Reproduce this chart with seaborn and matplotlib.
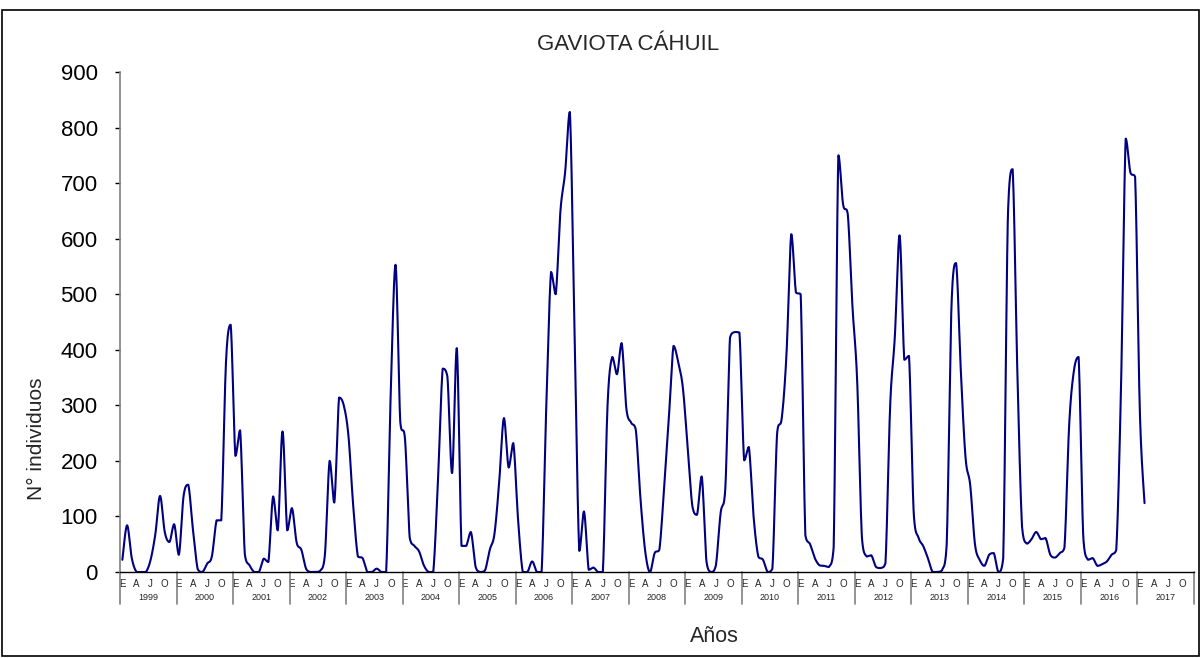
import numpy as np
import pandas as pd
import matplotlib
matplotlib.use("Agg")
import matplotlib.pyplot as plt
import matplotlib.transforms as mtransforms
from matplotlib.patches import Rectangle
import seaborn as sns

# ---------------- data (monthly counts) ----------------
years = [str(y) for y in range(1999, 2018)]
month_labels = ["E", "A", "J", "O"]
month_label_pos = [0, 3, 6, 9]

c1999 = [22, 84, 25, 0, 0, 0, 22, 68, 137, 72, 54, 86]
c2000 = [31, 137, 157, 75, 5, 0, 15, 28, 93, 93, 378, 445]
c2001 = [209, 255, 32, 12, 0, 0, 24, 18, 136, 75, 253, 75]
c2002 = [115, 53, 40, 6, 0, 0, 2, 31, 200, 125, 314, 300]
c2003 = [245, 120, 28, 25, 0, 0, 6, 0, 0, 330, 553, 270]
c2004 = [240, 62, 47, 37, 12, 0, 0, 165, 366, 352, 178, 403]
c2005 = [47, 47, 72, 9, 0, 3, 40, 69, 162, 277, 188, 232]
c2006 = [95, 0, 0, 19, 0, 0, 300, 540, 500, 650, 720, 828]
c2007 = [430, 38, 109, 4, 8, 0, 0, 300, 387, 356, 412, 294]
c2008 = [269, 256, 131, 37, 0, 34, 40, 150, 275, 407, 378, 331]
c2009 = [225, 119, 103, 172, 19, 0, 12, 106, 150, 422, 432, 431]
c2010 = [201, 225, 100, 28, 22, 0, 6, 250, 278, 394, 608, 503]
c2011 = [500, 66, 50, 25, 12, 11, 9, 44, 750, 662, 644, 477]
c2012 = [343, 62, 28, 30, 9, 7, 16, 300, 425, 606, 382, 389]
c2013 = [106, 62, 47, 25, 0, 0, 3, 50, 475, 556, 362, 206]
c2014 = [156, 50, 22, 11, 31, 34, 0, 25, 644, 725, 360, 81]
c2015 = [51, 59, 72, 59, 61, 31, 26, 34, 44, 265, 362, 387]
c2016 = [62, 22, 25, 11, 14, 19, 31, 40, 330, 780, 719, 711]
c2017 = [290, 124]

counts = (c1999 + c2000 + c2001 + c2002 + c2003 + c2004 + c2005 + c2006 +
          c2007 + c2008 + c2009 + c2010 + c2011 + c2012 + c2013 + c2014 +
          c2015 + c2016 + c2017)

df = pd.DataFrame({"idx": np.arange(len(counts)) + 0.5, "n": counts})


# Excel-like smoothed line: cubic Bezier through every point, with the
# control points kept inside each segment's range (no overshoot)
def smooth_line(x, y, steps=24):
    x = np.asarray(x, float)
    y = np.asarray(y, float)
    px = np.concatenate([[x[0]], x, [x[-1]]])
    py = np.concatenate([[y[0]], y, [y[-1]]])
    xs, ys = [], []
    t = np.linspace(0, 1, steps, endpoint=False)
    b0 = (1 - t) ** 3
    b1 = 3 * (1 - t) ** 2 * t
    b2 = 3 * (1 - t) * t ** 2
    b3 = t ** 3
    for k in range(1, len(px) - 2):
        p0, p1, p2, p3 = k - 1, k, k + 1, k + 2
        lo, hi = min(py[p1], py[p2]), max(py[p1], py[p2])
        c1x = px[p1] + (px[p2] - px[p0]) / 6
        c1y = np.clip(py[p1] + (py[p2] - py[p0]) / 6, lo, hi)
        c2x = px[p2] - (px[p3] - px[p1]) / 6
        c2y = np.clip(py[p2] - (py[p3] - py[p1]) / 6, lo, hi)
        xs.append(b0 * px[p1] + b1 * c1x + b2 * c2x + b3 * px[p2])
        ys.append(b0 * py[p1] + b1 * c1y + b2 * c2y + b3 * py[p2])
    xs.append([x[-1]])
    ys.append([y[-1]])
    return np.concatenate(xs), np.concatenate(ys)


sx, sy = smooth_line(df["idx"], df["n"])
smooth_df = pd.DataFrame({"x": sx, "y": sy})

# ---------------- figure ----------------
sns.set_style("white")
plt.rcParams["font.family"] = ["Liberation Sans", "DejaVu Sans"]

W, H = 1203, 658
fig = plt.figure(figsize=(W / 100, H / 100), dpi=100)
ax = fig.add_axes([120 / W, 1 - 572 / H, (1194 - 120) / W, 500 / H])

sns.lineplot(data=smooth_df, x="x", y="y", sort=False, estimator=None,
             color="#000080", linewidth=1.5, ax=ax)

n_cat = 12 * len(years)
ax.set_xlim(0, n_cat)
ax.set_ylim(0, 900)
ax.set_yticks(np.arange(0, 901, 100))
ax.set_yticklabels([str(v) for v in range(0, 901, 100)], fontsize=16)
ax.tick_params(axis="y", direction="out", length=3.6, width=1, pad=12.5,
               colors="black", left=True)

# month ticks
xt, xl = [], []
for yi in range(len(years)):
    for p, lab in zip(month_label_pos, month_labels):
        xt.append(yi * 12 + p + 0.5)
        xl.append(lab)
ax.set_xticks(xt)
ax.set_xticklabels(xl, fontsize=7)
ax.tick_params(axis="x", length=0, pad=5)

ax.set_xlabel("")
ax.set_ylabel("")

for s in ["top", "right"]:
    ax.spines[s].set_visible(False)
ax.spines["left"].set_color("#808080")
ax.spines["left"].set_linewidth(1.2)
ax.spines["bottom"].set_color("black")
ax.spines["bottom"].set_linewidth(1.0)

# year labels and separators below the axis
trans = mtransforms.blended_transform_factory(ax.transData, ax.transAxes)
for yi, yr in enumerate(years):
    ax.text(yi * 12 + 6, -26 / 500, yr, transform=trans, ha="center",
            va="center", fontsize=6.5)
for k in range(len(years) + 1):
    ax.plot([k * 12, k * 12], [0, -32 / 500], transform=trans,
            color="#808080", lw=1.2, clip_on=False)

# titles
fig.text(628 / W, 1 - 45 / H, "GAVIOTA CÁHUIL", ha="center", va="center",
         fontsize=16)
fig.text(37 / W, 1 - 439 / H, "N° individuos", ha="center", va="center",
         rotation=90, fontsize=15)
fig.text(714 / W, 1 - 636 / H, "Años", ha="center", va="center",
         fontsize=15.5)

# outer frame
fig.patches.append(Rectangle((2 / W, 2 / H), (1199 - 2) / W, (648 - 2) / H,
                             transform=fig.transFigure, fill=False,
                             edgecolor="black", lw=1.2))

fig.savefig("out.png", dpi=100)
